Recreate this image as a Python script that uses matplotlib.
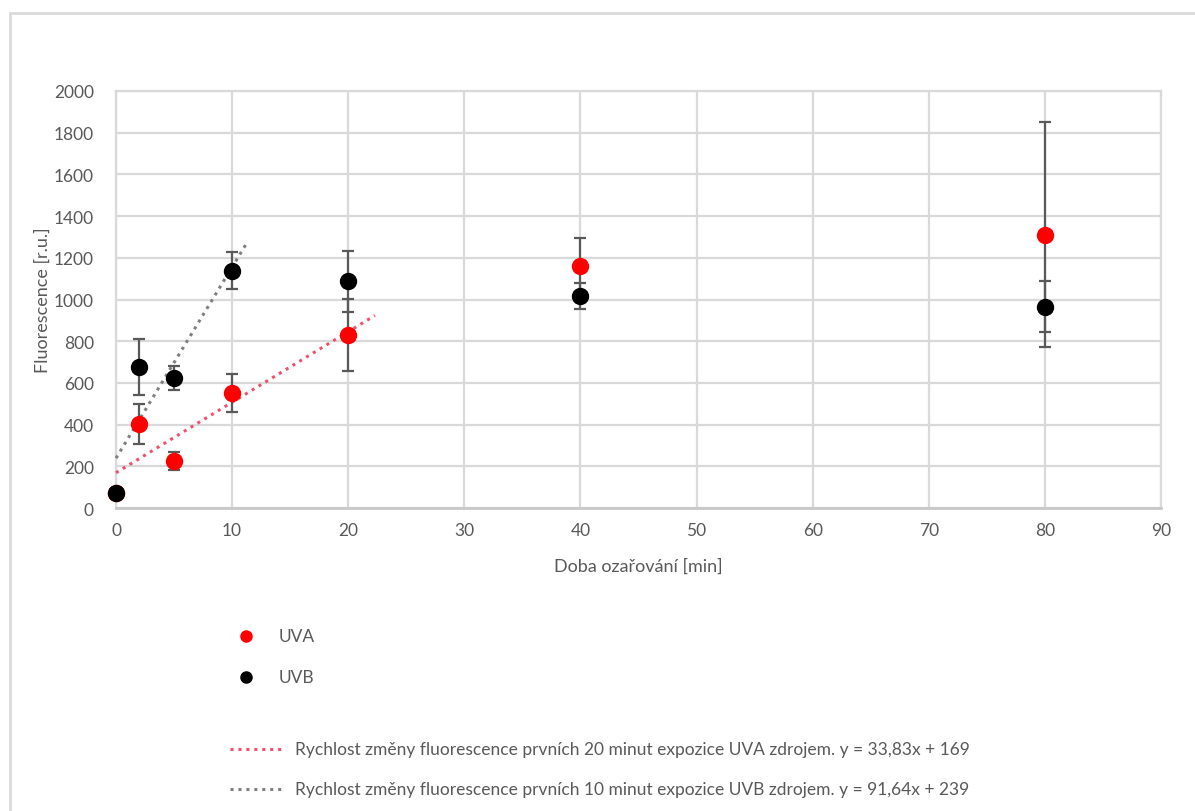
import matplotlib
matplotlib.use("Agg")
import matplotlib.pyplot as plt
from matplotlib.lines import Line2D
from matplotlib.patches import Rectangle
import numpy as np

plt.rcParams['font.family'] = ['Lato', 'DejaVu Sans']

# Irradiation time [min]
time_min = [0, 2, 5, 10, 20, 40, 80]

# Mean fluorescence and error (+/-) for each source
uva_mean = [72, 403, 225, 552, 830, 1161, 1311]
uva_err = [10, 95, 42, 92, 173, 132, 540]
uvb_mean = [72, 675, 623, 1138, 1087, 1018, 966]
uvb_err = [10, 135, 58, 88, 145, 62, 123]

# Linear fits over the initial period
uva_fit = (33.83, 169)
uvb_fit = (91.64, 239)
uva_fit_range = (0, 22.3)
uvb_fit_range = (0, 11.2)

legend_uva = "UVA"
legend_uvb = "UVB"
legend_fit_uva = "Rychlost změny fluorescence prvních 20 minut expozice UVA zdrojem. y = 33,83x + 169"
legend_fit_uvb = "Rychlost změny fluorescence prvních 10 minut expozice UVB zdrojem. y = 91,64x + 239"

W, H = 1195, 812
fig = plt.figure(figsize=(W / 100, H / 100), dpi=100)
text_c = '#595959'
grid_c = '#d9d9d9'

def fx(px):
    return px / W

def fy(py):
    return 1 - py / H

# outer chart border
fig.add_artist(Rectangle((fx(10), -0.1), 1.2, fy(14) + 0.1, transform=fig.transFigure,
                         fill=False, edgecolor=grid_c, lw=2))

ax = fig.add_axes([fx(116), fy(509), fx(1161) - fx(116), fy(92) - fy(509)])
ax.set_xlim(0, 90)
ax.set_ylim(0, 2000)
ax.set_xticks(np.arange(0, 91, 10))
ax.set_yticks(np.arange(0, 2001, 200))
ax.grid(True, color=grid_c, lw=1.6, zorder=0)
ax.set_axisbelow(True)
for s in ax.spines.values():
    s.set_color(grid_c)
    s.set_linewidth(1.6)
ax.spines['bottom'].set_color('#c8c8c8')
ax.spines['bottom'].set_linewidth(2)
ax.tick_params(length=0, labelsize=12.5, colors=text_c, pad=10)
ax.tick_params(axis='y', pad=16)

# fitted lines
fx_uva = np.array(uva_fit_range)
fx_uvb = np.array(uvb_fit_range)
ax.plot(fx_uva, uva_fit[0] * fx_uva + uva_fit[1], color='#f0506e', lw=2.2,
        linestyle=(0, (1, 1.6)), zorder=3, clip_on=False)
ax.plot(fx_uvb, uvb_fit[0] * fx_uvb + uvb_fit[1], color='#7f7f7f', lw=2.2,
        linestyle=(0, (1, 1.6)), zorder=3, clip_on=False)

err_kw = dict(fmt='none', ecolor='#595959', elinewidth=1.6, capsize=4.5, capthick=1.6, zorder=4)
ax.errorbar(time_min, uva_mean, yerr=uva_err, **err_kw)
ax.errorbar(time_min, uvb_mean, yerr=uvb_err, **err_kw)
ax.plot(time_min, uva_mean, 'o', color='#ff0000', ms=11.5, mec='#ff0000', zorder=5, clip_on=False)
ax.plot(time_min, uvb_mean, 'o', color='#000000', ms=11.5, mec='#000000', zorder=6, clip_on=False)

ax.set_xlabel("Doba ozařování [min]", fontsize=13, color=text_c, labelpad=14)
ax.set_ylabel("Fluorescence [r.u.]", fontsize=13, color=text_c, labelpad=2)

# legend
fig.add_artist(Line2D([fx(246)], [fy(637)], marker='o', color='#ff0000', ms=8, transform=fig.transFigure))
fig.text(fx(279), fy(637), legend_uva, fontsize=12.5, color=text_c, va='center', ha='left')
fig.add_artist(Line2D([fx(246)], [fy(678)], marker='o', color='#000000', ms=8, transform=fig.transFigure))
fig.text(fx(279), fy(678), legend_uvb, fontsize=12.5, color=text_c, va='center', ha='left')

fig.add_artist(Line2D([fx(230), fx(285)], [fy(750), fy(750)], color='#f0506e', lw=2.2,
                      linestyle=(0, (1, 1.6)), transform=fig.transFigure))
fig.text(fx(295), fy(750), legend_fit_uva, fontsize=12.5, color=text_c, va='center', ha='left')
fig.add_artist(Line2D([fx(230), fx(285)], [fy(790), fy(790)], color='#7f7f7f', lw=2.2,
                      linestyle=(0, (1, 1.6)), transform=fig.transFigure))
fig.text(fx(295), fy(790), legend_fit_uvb, fontsize=12.5, color=text_c, va='center', ha='left')

fig.savefig("out.png", dpi=100, facecolor='white')
